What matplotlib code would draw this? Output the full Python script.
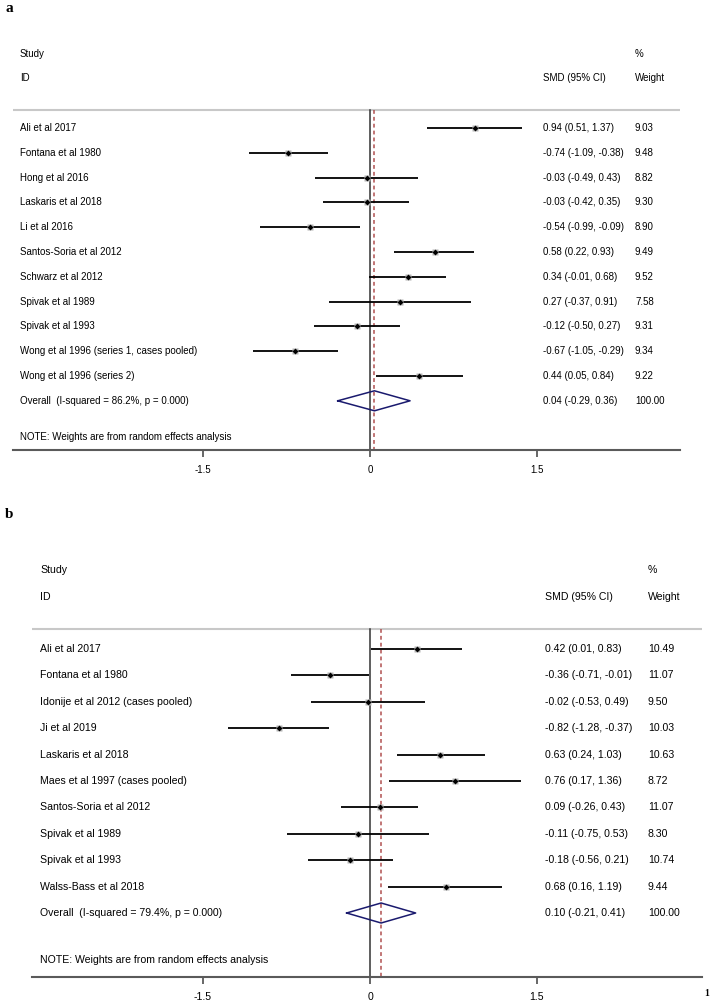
import matplotlib
matplotlib.use("Agg")
import matplotlib.pyplot as plt

plt.rcParams['font.family'] = ['Liberation Sans', 'DejaVu Sans']

# ---------------- data ----------------
studies_a = ["Ali et al 2017", "Fontana et al 1980", "Hong et al 2016", "Laskaris et al 2018",
             "Li et al 2016", "Santos-Soria et al 2012", "Schwarz et al 2012", "Spivak et al 1989",
             "Spivak et al 1993", "Wong et al 1996 (series 1, cases pooled)", "Wong et al 1996 (series 2)"]
smd_a = [0.94, -0.74, -0.03, -0.03, -0.54, 0.58, 0.34, 0.27, -0.12, -0.67, 0.44]
lo_a = [0.51, -1.09, -0.49, -0.42, -0.99, 0.22, -0.01, -0.37, -0.50, -1.05, 0.05]
hi_a = [1.37, -0.38, 0.43, 0.35, -0.09, 0.93, 0.68, 0.91, 0.27, -0.29, 0.84]
wt_a = [9.03, 9.48, 8.82, 9.30, 8.90, 9.49, 9.52, 7.58, 9.31, 9.34, 9.22]
overall_a = (0.04, -0.29, 0.36)
overall_label_a = "Overall  (I-squared = 86.2%, p = 0.000)"

studies_b = ["Ali et al 2017", "Fontana et al 1980", "Idonije et al 2012 (cases pooled)", "Ji et al 2019",
             "Laskaris et al 2018", "Maes et al 1997 (cases pooled)", "Santos-Soria et al 2012",
             "Spivak et al 1989", "Spivak et al 1993", "Walss-Bass et al 2018"]
smd_b = [0.42, -0.36, -0.02, -0.82, 0.63, 0.76, 0.09, -0.11, -0.18, 0.68]
lo_b = [0.01, -0.71, -0.53, -1.28, 0.24, 0.17, -0.26, -0.75, -0.56, 0.16]
hi_b = [0.83, -0.01, 0.49, -0.37, 1.03, 1.36, 0.43, 0.53, 0.21, 1.19]
wt_b = [10.49, 11.07, 9.50, 10.03, 10.63, 8.72, 11.07, 8.30, 10.74, 9.44]
overall_b = (0.10, -0.21, 0.41)
overall_label_b = "Overall  (I-squared = 79.4%, p = 0.000)"

xticks = [-1.5, 0, 1.5]
xtick_labels = ["-1.5", "0", "1.5"]
note = "NOTE: Weights are from random effects analysis"

W, H = 711, 1006
fig = plt.figure(figsize=(W / 100, H / 100), dpi=100)

PX = 111.3  # pixels per SMD unit


def fmt(v):
    return f"{v:.2f}"


def panel(x0, x1, ytop, ybot, zero_px, row0_px, step, studies, smd, lo, hi, wt, overall,
          overall_label, fs, head_px, grey_px, note_px, text_px, smd_px, wt_px):
    ax = fig.add_axes([x0 / W, 1 - ybot / H, (x1 - x0) / W, (ybot - ytop) / H])
    pr = lambda p: (p - row0_px) / step
    px = lambda p: (p - zero_px) / PX
    ax.set_xlim(px(x0), px(x1))
    ax.set_ylim(pr(ybot), pr(ytop))
    for s in ['top', 'left', 'right']:
        ax.spines[s].set_visible(False)
    ax.spines['bottom'].set_color('#5a5a5a')
    ax.spines['bottom'].set_linewidth(1.5)
    ax.set_yticks([])
    ax.set_xticks(xticks)
    ax.set_xticklabels(xtick_labels, fontsize=fs)
    ax.tick_params(axis='x', length=5, width=1.3, color='#5a5a5a', pad=6)

    grey_y = pr(grey_px)
    ax.axhline(grey_y, color='#c8c8c8', lw=1.5)
    ax.plot([0, 0], [grey_y, pr(ybot)], color='#333333', lw=1.1)
    ax.plot([overall[0]] * 2, [grey_y, pr(ybot)], color='#b05050', lw=1.1,
            linestyle=(0, (2.5, 2)))

    tx, sx, wx = px(text_px), px(smd_px), px(wt_px)
    ax.text(tx, pr(head_px[0]), "Study", fontsize=fs, va='center')
    ax.text(tx, pr(head_px[1]), "ID", fontsize=fs, va='center')
    ax.text(sx, pr(head_px[1]), "SMD (95% CI)", fontsize=fs, va='center')
    ax.text(wx, pr(head_px[0]), "%", fontsize=fs, va='center')
    ax.text(wx, pr(head_px[1]), "Weight", fontsize=fs, va='center')

    for i, name in enumerate(studies):
        ax.plot([lo[i], hi[i]], [i, i], color='black', lw=1.3, solid_capstyle='butt', zorder=3)
        ax.plot(smd[i], i, marker='s', ms=5.0, color='#b4b4b4', mec='none', zorder=4)
        ax.plot(smd[i], i, marker='D', ms=3.0, color='black', mec='none', zorder=5)
        ax.text(tx, i, name, fontsize=fs, va='center')
        ax.text(sx, i, f"{fmt(smd[i])} ({fmt(lo[i])}, {fmt(hi[i])})", fontsize=fs, va='center')
        ax.text(wx, i, fmt(wt[i]), fontsize=fs, va='center')

    n = len(studies)
    m, l, h = overall
    hh = 10 / step
    ax.plot([l, m, h, m, l], [n, n - hh, n, n + hh, n], color='#1a1a6e', lw=1.1, zorder=4)
    ax.text(tx, n, overall_label, fontsize=fs, va='center')
    ax.text(sx, n, f"{fmt(m)} ({fmt(l)}, {fmt(h)})", fontsize=fs, va='center')
    ax.text(wx, n, "100.00", fontsize=fs, va='center')
    ax.text(tx, pr(note_px), note, fontsize=fs, va='center')
    return ax


panel(13, 680, 40, 450, 370, 128, 24.8, studies_a, smd_a, lo_a, hi_a, wt_a, overall_a,
      overall_label_a, 7.0, (54, 78), 110, 437, 20, 543, 635)
panel(32, 702, 560, 977, 370, 649, 26.4, studies_b, smd_b, lo_b, hi_b, wt_b, overall_b,
      overall_label_b, 7.6, (570, 596.5), 629, 960, 40, 545, 648)

fig.text(5 / W, 1 - 8 / H, "a", fontsize=11, fontweight='bold', family='Liberation Serif',
         va='center', ha='left')
fig.text(5 / W, 1 - 514 / H, "b", fontsize=11, fontweight='bold', family='Liberation Serif',
         va='center', ha='left')
fig.text(704 / W, 1 - 994 / H, "1", fontsize=7, fontweight='bold', family='Liberation Serif',
         va='center', ha='left')

fig.savefig("out.png", dpi=100)
